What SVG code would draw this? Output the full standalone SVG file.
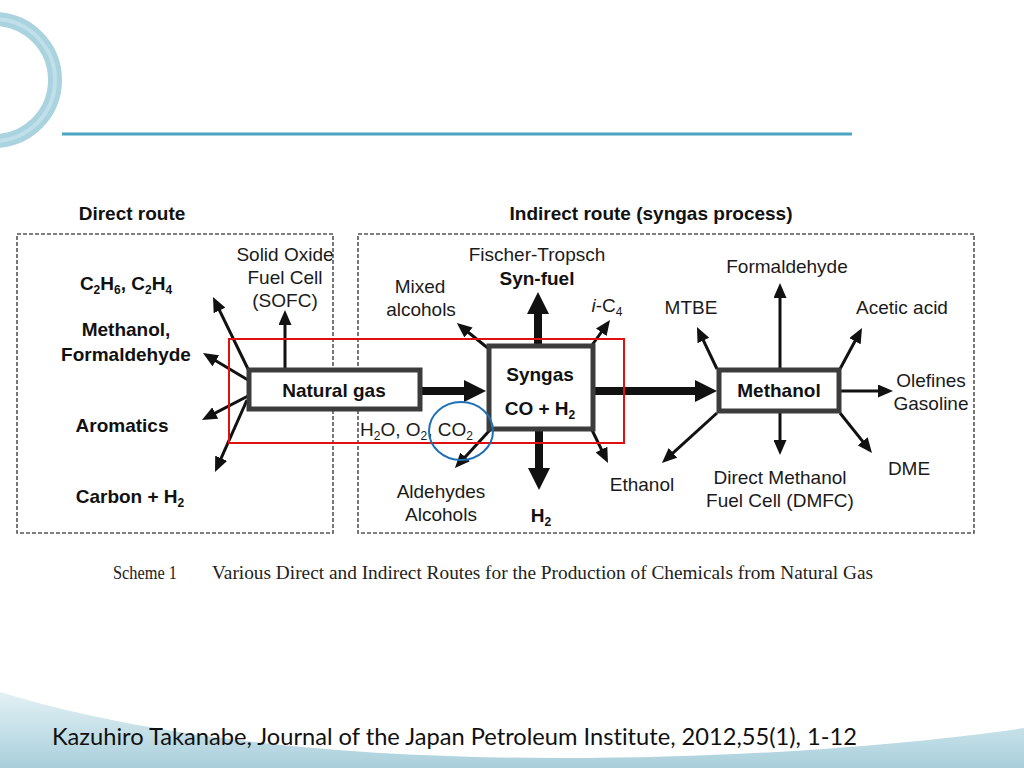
<svg xmlns="http://www.w3.org/2000/svg" width="1024" height="768" viewBox="0 0 1024 768">
<defs>
<linearGradient id="wave" x1="0" y1="0" x2="0" y2="1">
<stop offset="0" stop-color="#e3f1f5"/>
<stop offset="1" stop-color="#a9cfdb"/>
</linearGradient>
<marker id="ah" markerUnits="userSpaceOnUse" viewBox="0 0 15 13" markerWidth="15" markerHeight="13" refX="4" refY="6.5" orient="auto">
<path d="M0,0 L15,6.5 L0,13 z" fill="#111"/>
</marker>
<marker id="ahb" markerUnits="userSpaceOnUse" viewBox="0 0 22 22" markerWidth="22" markerHeight="22" refX="6" refY="11" orient="auto">
<path d="M0,0 L22,11 L0,22 z" fill="#111"/>
</marker>
<style>
.t{font-family:"Liberation Sans",Arial,sans-serif;font-size:19px;fill:#1a1a1a;text-anchor:middle}
.b{font-weight:bold;fill:#111}
.s{font-size:12px}
.dash{fill:none;stroke:#555;stroke-width:1.6;stroke-dasharray:4,2}
.box{fill:#fff;stroke:#3c3c3c;stroke-width:5}
.thin{stroke:#111;stroke-width:3;fill:none;marker-end:url(#ah)}
.thick{stroke:#111;stroke-width:8;fill:none;marker-end:url(#ahb)}
.cap{font-family:"Liberation Serif","Times New Roman",serif;font-size:18px;fill:#222}
</style>
</defs>
<rect width="1024" height="768" fill="#fff"/>
<g id="decor">
<circle cx="-6" cy="80" r="61" fill="none" stroke="#a9d3df" stroke-width="14"/>
<circle cx="-6" cy="80" r="61" fill="none" stroke="#c9e6ee" stroke-width="4" opacity="0.7"/>
<line x1="62" y1="134" x2="852" y2="134" stroke="#4aa6c2" stroke-width="3"/>
<path d="M0,692 C140,735 330,758 560,758 C760,758 930,742 1024,728 L1024,768 L0,768 Z" fill="url(#wave)"/>
</g>
<g id="regions">
<rect class="dash" x="17" y="234" width="316" height="299"/>
<rect class="dash" x="358" y="234" width="616" height="299"/>
<text class="t b" x="132" y="220">Direct route</text>
<text class="t b" x="651" y="220">Indirect route (syngas process)</text>
</g>
<g id="connectors">
<line class="thin" x1="285" y1="368" x2="285" y2="321"/>
<line class="thin" x1="248" y1="369" x2="217.8" y2="306.9"/>
<line class="thin" x1="248" y1="380" x2="212.4" y2="358.7"/>
<line class="thin" x1="248" y1="396" x2="211.7" y2="414.9"/>
<line class="thin" x1="247" y1="400" x2="219.5" y2="461.9"/>
<line class="thin" x1="489" y1="349" x2="465.4" y2="330"/>
<line class="thin" x1="590" y1="348" x2="603.6" y2="329"/>
<line class="thin" x1="490" y1="430" x2="462.4" y2="459.9"/>
<line class="thin" x1="592" y1="430" x2="603.2" y2="453.1"/>
<line class="thin" x1="780" y1="369" x2="780" y2="294"/>
<line class="thin" x1="717" y1="369" x2="701.7" y2="336.9"/>
<line class="thin" x1="840" y1="369" x2="856.8" y2="337.7"/>
<line class="thin" x1="840" y1="391" x2="882" y2="391"/>
<line class="thin" x1="780" y1="413" x2="780" y2="444"/>
<line class="thin" x1="717" y1="413" x2="670.1" y2="455.6"/>
<line class="thin" x1="840" y1="413" x2="865.1" y2="444.4"/>
<line class="thick" x1="420" y1="391" x2="470" y2="391"/>
<line class="thick" x1="594" y1="391" x2="701" y2="391"/>
<line class="thick" x1="538" y1="344" x2="538" y2="308"/>
<line class="thick" x1="539" y1="430" x2="539" y2="474"/>
</g>
<g id="natural-gas">
<rect class="box" x="249" y="370" width="171" height="39"/>
<text class="t b" x="334" y="397">Natural gas</text>
</g>
<g id="syngas">
<rect class="box" x="489" y="346" width="104" height="83"/>
<text class="t b" x="540" y="381">Syngas</text>
<text class="t b" x="540" y="415">CO + H<tspan class="s" dy="4">2</tspan></text>
</g>
<g id="methanol">
<rect class="box" x="719" y="370" width="120" height="41"/>
<text class="t b" x="779" y="397">Methanol</text>
</g>
<g id="direct-products">
<text class="t b" x="126" y="290">C<tspan class="s" dy="4">2</tspan><tspan dy="-4">H</tspan><tspan class="s" dy="4">6</tspan><tspan dy="-4">, C</tspan><tspan class="s" dy="4">2</tspan><tspan dy="-4">H</tspan><tspan class="s" dy="4">4</tspan></text>
<text class="t b" x="126" y="336">Methanol,</text>
<text class="t b" x="126" y="361">Formaldehyde</text>
<text class="t b" x="122" y="432">Aromatics</text>
<text class="t b" x="130" y="503">Carbon + H<tspan class="s" dy="4">2</tspan></text>
<text class="t" x="285" y="261">Solid Oxide</text>
<text class="t" x="285" y="284">Fuel Cell</text>
<text class="t" x="285" y="307">(SOFC)</text>
</g>
<g id="syngas-products">
<text class="t" x="537" y="261">Fischer-Tropsch</text>
<text class="t b" x="537" y="285">Syn-fuel</text>
<text class="t" x="420" y="293">Mixed</text>
<text class="t" x="421" y="316">alcohols</text>
<text class="t" x="607" y="312"><tspan font-style="italic">i</tspan>-C<tspan class="s" dy="4">4</tspan></text>
<text class="t" x="360" y="436" style="text-anchor:start">H<tspan class="s" dy="4">2</tspan><tspan dy="-4">O, O</tspan><tspan class="s" dy="4">2</tspan><tspan dy="-4">, CO</tspan><tspan class="s" dy="4">2</tspan></text>
<text class="t" x="441" y="498">Aldehydes</text>
<text class="t" x="441" y="521">Alcohols</text>
<text class="t b" x="541" y="522">H<tspan class="s" dy="4">2</tspan></text>
<text class="t" x="642" y="491">Ethanol</text>
</g>
<g id="methanol-products">
<text class="t" x="787" y="273">Formaldehyde</text>
<text class="t" x="691" y="314">MTBE</text>
<text class="t" x="902" y="314">Acetic acid</text>
<text class="t" x="931" y="387">Olefines</text>
<text class="t" x="931" y="410">Gasoline</text>
<text class="t" x="909" y="475">DME</text>
<text class="t" x="780" y="484">Direct Methanol</text>
<text class="t" x="780" y="507">Fuel Cell (DMFC)</text>
</g>
<g id="highlights">
<rect x="229" y="339" width="395" height="104" fill="none" stroke="#e01010" stroke-width="2"/>
<ellipse cx="461" cy="431" rx="32" ry="29" fill="none" stroke="#1f6fb5" stroke-width="2"/>
</g>
<text class="cap" x="113" y="579" textLength="64" lengthAdjust="spacingAndGlyphs">Scheme 1</text>
<text class="cap" x="212" y="579" textLength="661" lengthAdjust="spacingAndGlyphs">Various Direct and Indirect Routes for the Production of Chemicals from Natural Gas</text>
<text x="52" y="745" font-family="Lato,'Open Sans',sans-serif" font-size="23" fill="#111" style="font-variant-ligatures:none" textLength="805" lengthAdjust="spacingAndGlyphs">Kazuhiro Takanabe, Journal of the Japan Petroleum Institute, 2012,55(1), 1-12</text>
</svg>
